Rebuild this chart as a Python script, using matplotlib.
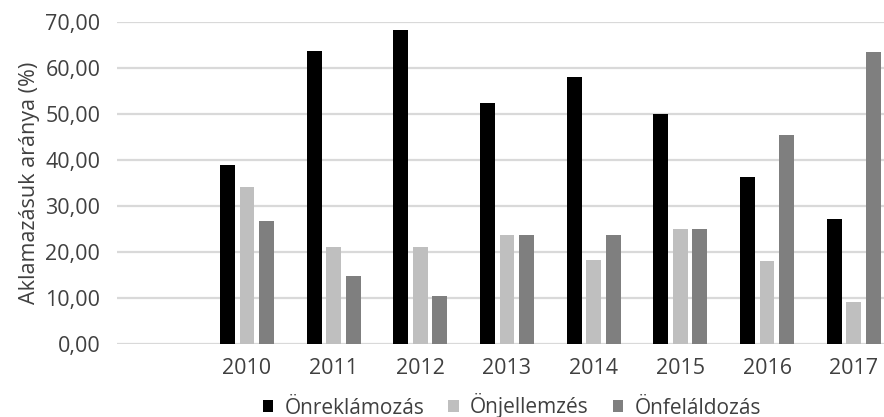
import matplotlib
matplotlib.use("Agg")
import matplotlib.pyplot as plt
import numpy as np

plt.rcParams["font.family"] = ["Open Sans", "DejaVu Sans"]

# first category is empty in the source chart
years = ["", "2010", "2011", "2012", "2013", "2014", "2015", "2016", "2017"]
series_names = ["Önreklámozás", "Önjellemzés", "Önfeláldozás"]
onreklamozas = [np.nan, 39.0, 63.8, 68.3, 52.3, 58.0, 49.9, 36.2, 27.2]
onjellemzes = [np.nan, 34.2, 21.1, 21.1, 23.6, 18.3, 24.9, 18.0, 9.1]
onfelaldozas = [np.nan, 26.7, 14.7, 10.5, 23.6, 23.6, 24.9, 45.4, 63.5]
colors = ["#000000", "#bfbfbf", "#7f7f7f"]

W, H = 884, 417
fig = plt.figure(figsize=(W / 100, H / 100), dpi=100)
# axes run past the right edge: the reference image is cropped there
left, right, bottom, top = 117, 897, 344, 22
ax = fig.add_axes([left / W, 1 - bottom / H, (right - left) / W, (bottom - top) / H])

x = np.arange(len(years))
bw = 0.172
offs = [-0.225, 0.0, 0.225]
for vals, name, col, off in zip([onreklamozas, onjellemzes, onfelaldozas],
                                series_names, colors, offs):
    ax.bar(x + off, vals, width=bw, color=col, label=name, zorder=3)

ax.set_xlim(-0.5, len(years) - 0.5)
ax.set_ylim(0, 70)
ax.set_yticks(np.arange(0, 71, 10))
ax.set_yticklabels([f"{v:.2f}".replace(".", ",") for v in np.arange(0, 71, 10)])
ax.set_xticks(x)
ax.set_xticklabels(years)
ax.tick_params(length=0, labelsize=15.5, colors="#404040", pad=10)
ax.tick_params(axis="y", pad=12)
ax.grid(axis="y", color="#d9d9d9", linewidth=1.6, zorder=0)
ax.set_axisbelow(True)
for s in ax.spines.values():
    s.set_visible(False)

ax.set_ylabel("Aklamazásuk aránya (%)", fontsize=15.5, color="#404040", labelpad=4)

fig.legend(loc="center", bbox_to_anchor=(512 / W, 1 - 406 / H), ncol=3,
           frameon=False, fontsize=15, handlelength=0.5, handleheight=0.5,
           handletextpad=0.55, columnspacing=1.15, labelcolor="#404040")

fig.savefig("out.png", dpi=100)
